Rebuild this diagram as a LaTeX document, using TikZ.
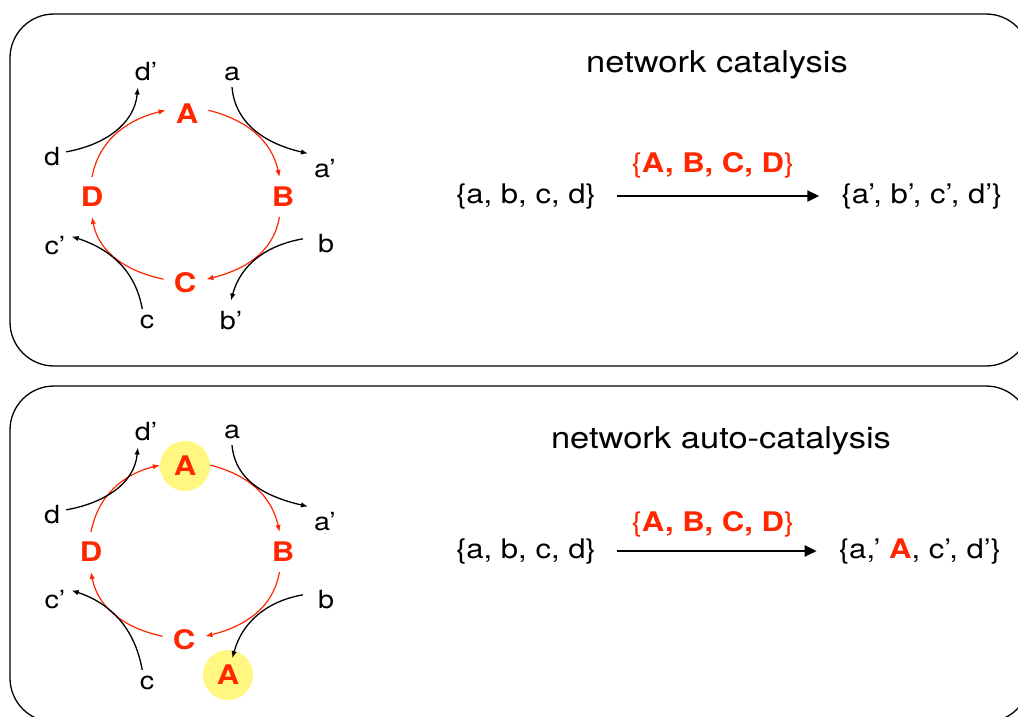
\documentclass[tikz,border=0pt]{standalone}
\usepackage{fontspec}
\setmainfont{TeX Gyre Heros}[FakeStretch=1.15]
\usetikzlibrary{arrows.meta}
\definecolor{rd}{RGB}{255,38,0}
\definecolor{yl}{RGB}{255,247,128}
\newcommand\lblF{\fontsize{25}{30}\selectfont}
\newcommand\ringF{\fontsize{27}{32}\selectfont\bfseries}
\newcommand\setF{\fontsize{27}{32}\selectfont}
\newcommand\ttlF{\fontsize{30}{36}\selectfont}
\begin{document}
\begin{tikzpicture}[x=1pt,y=1pt,
  lbl/.style={font=\lblF, inner sep=6pt},
  ring/.style={font=\ringF, text=rd, inner sep=10pt},
  hl/.style={font=\ringF, text=rd, circle, fill=yl, minimum size=50pt, inner sep=0pt},
  rarc/.style={draw=rd, line width=1.2pt, -{Latex[length=7pt,width=5.5pt]}},
  barc/.style={draw=black, line width=1.3pt, -{Latex[length=7pt,width=5.5pt]}},
  panel/.style={draw=black, line width=1.3pt, rounded corners=44pt},
  setnode/.style={font=\setF, inner sep=0pt, anchor=base},
  ttl/.style={font=\ttlF, inner sep=0pt, anchor=base},
  bigarrow/.style={line width=2.2pt, -{Triangle[length=12pt,width=11pt]}}
]
\useasboundingbox (0,0) rectangle (1018,-717);
\clip (0,0) rectangle (1018,-717);
\draw[panel] (10,-14) rectangle (1030,-366);
\draw[panel] (10,-386) rectangle (1030,-722);

% ---------- panel 1 ----------
\node[lbl] (dp1) at (146,-72) {d’};
\node[lbl] (a1) at (232,-74) {a};
\node[lbl] (d1) at (52,-157) {d};
\node[lbl] (ap1) at (325,-169) {a’};
\node[lbl] (cp1) at (55,-246) {c’};
\node[lbl] (b1) at (326,-244) {b};
\node[lbl] (c1) at (147,-322) {c};
\node[lbl] (bp1) at (231,-321) {b’};
\node[ring] (A1) at (187,-114) {A};
\node[ring] (B1) at (283,-197) {B};
\node[ring] (C1) at (185,-283) {C};
\node[ring] (D1) at (92,-197) {D};

\draw[rarc] (D1.north) to[out=79,in=194] (A1.170);
\draw[rarc] (A1.10) to[out=-14,in=102] (B1.100);
\draw[rarc] (B1.260) to[out=-100,in=14] (C1.10);
\draw[rarc] (C1.170) to[out=168,in=-79] (D1.south);

\draw[barc] (d1.20) to[out=10,in=-95] (dp1.242);
\draw[barc] (a1.south) to[out=-85,in=167] (ap1.north west);
\draw[barc] ([xshift=-9pt]b1.160) to[out=190,in=75] ([yshift=5pt]bp1.north);
\draw[barc] (c1.110) to[out=100,in=-18] (cp1.30);

\node[ttl] (t1) at (717,-73) {network catalysis};
\node[setnode] (l1) at (526,-203) {\{a, b, c, d\}};
\node[setnode, text=rd] (k1) at (713,-172) {\{\textbf{A, B, C, D}\}};
\node[setnode] (r1) at (922,-203) {\{a’, b’, c’, d’\}};
\draw[bigarrow] ([xshift=21pt]l1.east) -- ([xshift=-22pt]r1.west);

% ---------- panel 2 ----------
\node[lbl] (dp2) at (146,-432) {d’};
\node[lbl] (a2) at (232,-432) {a};
\node[lbl] (d2) at (52,-515) {d};
\node[lbl] (ap2) at (325,-522) {a’};
\node[lbl] (cp2) at (55,-600) {c’};
\node[lbl] (b2) at (326,-600) {b};
\node[lbl] (c2) at (147,-683) {c};
\node[hl] (A2) at (185,-466) {A};
\node[hl] (Ax2) at (228,-675) {A};
\node[ring] (B2) at (283,-552) {B};
\node[ring] (C2) at (184,-640) {C};
\node[ring] (D2) at (91,-552) {D};

\draw[rarc] (D2.north) to[out=79,in=194] (A2.178);
\draw[rarc] (A2.2) to[out=-14,in=102] (B2.100);
\draw[rarc] (B2.260) to[out=-100,in=14] (C2.10);
\draw[rarc] (C2.170) to[out=168,in=-79] (D2.south);

\draw[barc] (d2.20) to[out=10,in=-95] (dp2.242);
\draw[barc] (a2.south) to[out=-85,in=167] (ap2.north west);
\draw[barc] ([xshift=-9pt]b2.160) to[out=190,in=75] ([yshift=-8pt]Ax2.80);
\draw[barc] (c2.110) to[out=100,in=-18] (cp2.30);

\node[ttl] (t2) at (721,-448) {network auto-catalysis};
\node[setnode] (l2) at (526,-558) {\{a, b, c, d\}};
\node[setnode, text=rd] (k2) at (713,-531) {\{\textbf{A, B, C, D}\}};
\node[setnode] (r2) at (920,-558) {\{a,’ \textcolor{rd}{\textbf{A}}, c’, d’\}};
\draw[bigarrow] ([xshift=21pt]l2.east) -- ([xshift=-22pt]r2.west);
\end{tikzpicture}
\end{document}
